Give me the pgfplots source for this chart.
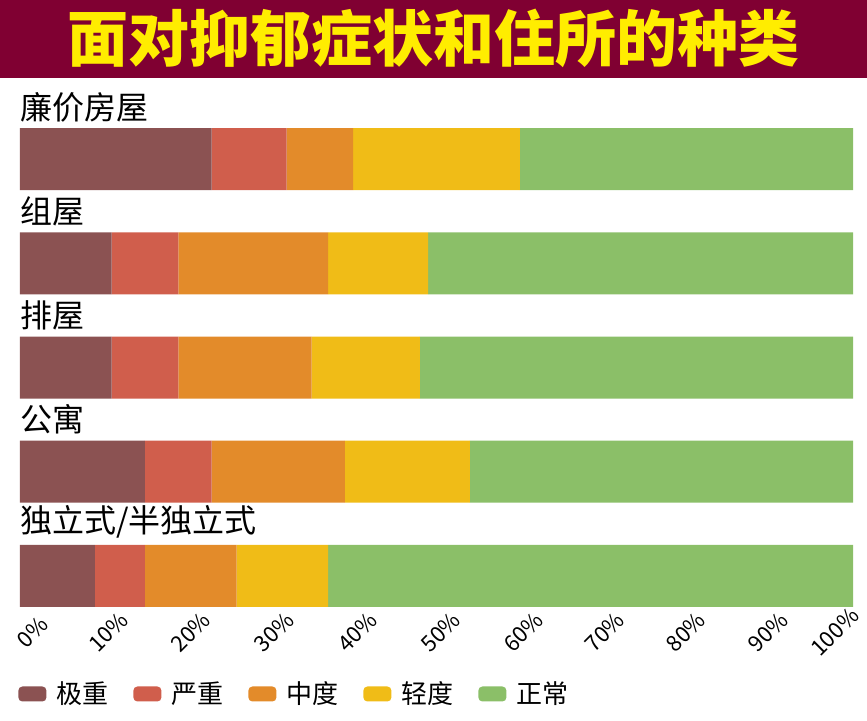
\documentclass[border=0pt]{standalone}
\usepackage{fontspec}
\setmainfont{Noto Sans CJK SC}
\usepackage{pgfplots}
\usepackage{pgfplotstable}
\pgfplotsset{compat=1.18}

\definecolor{banner}{RGB}{128,0,50}
\definecolor{ttlyellow}{RGB}{255,237,0}
\definecolor{cA}{RGB}{139,82,82}
\definecolor{cB}{RGB}{208,94,76}
\definecolor{cC}{RGB}{227,139,42}
\definecolor{cD}{RGB}{240,188,23}
\definecolor{cE}{RGB}{139,191,104}

% 极重 严重 中度 轻度 正常 (%)
\pgfplotstableread{
idx a  b c  d  e
0   23 9 8  20 40
1   11 8 18 12 51
2   11 8 16 13 52
3   15 8 16 15 46
4   9  6 11 11 63
}\data

\begin{document}
\begin{tikzpicture}
\useasboundingbox (0,0) rectangle (433.5pt,-360.5pt);
\fill[banner] (0,0) rectangle (433.5pt,-39pt);
\node[text=ttlyellow, font=\fontsize{30.5}{30.5}\selectfont\bfseries] at (216.75pt,-19pt) {面对抑郁症状和住所的种类};

\begin{axis}[
at={(10pt,-303.5pt)}, anchor=south west,
scale only axis,
width=416.5pt, height=239.5pt,
xmin=0, xmax=100,
ymin=-0.3, ymax=4.3,
y dir=reverse,
xbar stacked,
bar width=31pt,
clip=false,
axis line style={draw=none},
major tick style={draw=none},
ytick=\empty,
% label positions as set in the reference (end labels pulled inward)
xtick={1.5,10.6,20.5,30.5,40.5,50.5,60.4,70.2,79.9,89.8,97.8},
xticklabels={0\%,10\%,20\%,30\%,40\%,50\%,60\%,70\%,80\%,90\%,100\%},
xticklabel style={yshift=-12.5pt, rotate=45, anchor=center, font=\fontsize{11}{11}\selectfont},
legend columns=5,
legend style={
  at={(-0.0024,-0.1816)}, anchor=west,
  draw=none, fill=none, inner sep=0pt,
  font=\fontsize{13}{13}\selectfont,
  nodes={inner sep=0pt},
  /tikz/every odd column/.style={column sep=5pt},
  /tikz/every even column/.style={column sep=12.5pt}
},
legend image code/.code={\fill[#1, rounded corners=2pt] (0pt,-3.75pt) rectangle (14pt,3.75pt);}
]
\addplot[fill=cA, draw=none] table[x=a, y=idx] {\data};
\addplot[fill=cB, draw=none] table[x=b, y=idx] {\data};
\addplot[fill=cC, draw=none] table[x=c, y=idx] {\data};
\addplot[fill=cD, draw=none] table[x=d, y=idx] {\data};
\addplot[fill=cE, draw=none] table[x=e, y=idx] {\data};
\legend{极重,严重,中度,轻度,正常}

\foreach \i/\t in {0/{廉价房屋},1/{组屋},2/{排屋},3/{公寓},4/{独立式/半独立式}}{
  \edef\tmp{\noexpand\node[anchor=south west, inner sep=0pt, font=\noexpand\fontsize{16}{16}\noexpand\selectfont] at (axis cs:0,\i) [yshift=18.5pt] {\t};}
  \tmp
}
\end{axis}
\end{tikzpicture}
\end{document}
